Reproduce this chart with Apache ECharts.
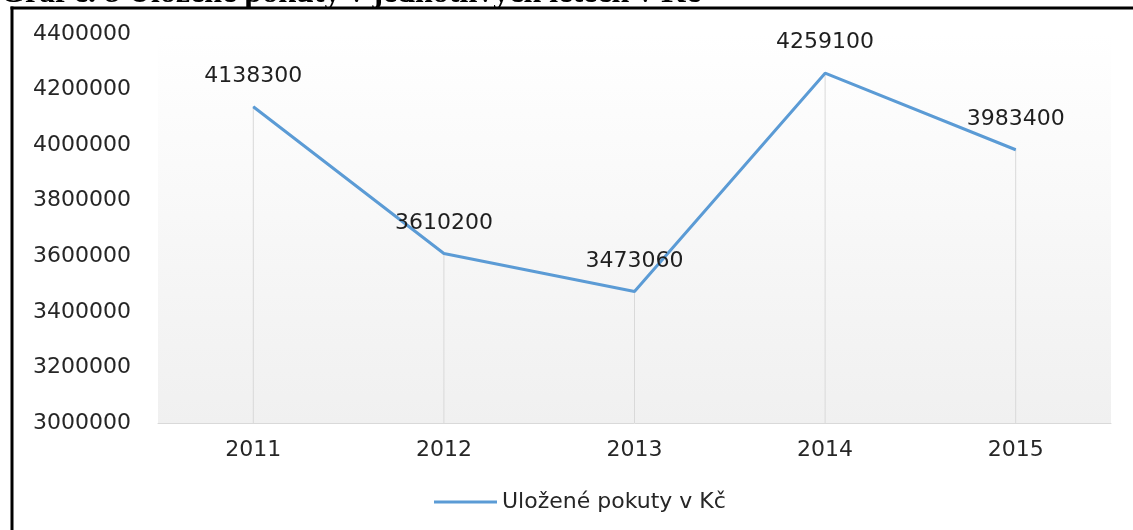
<!DOCTYPE html>
<html>
<head>
<meta charset="utf-8">
<script src="https://cdn.jsdelivr.net/npm/echarts@6/dist/echarts.min.js"></script>
<style>
  html, body { margin: 0; padding: 0; background: #fff; overflow: hidden; }
  #chart { width: 1133px; height: 530px; }
</style>
</head>
<body>
<div id="chart"></div>
<script>
const years = ['2011', '2012', '2013', '2014', '2015']
const pokuty = [4138300, 3610200, 3473060, 4259100, 3983400]
const seriesName = 'Uložené pokuty v Kč'
const titleText = 'Graf č. 8 Uložené pokuty v jednotlivých letech v Kč'

const font = 'DejaVu Sans'
const chart = echarts.init(document.getElementById('chart'))

const options = {
    backgroundColor: '#ffffff',
    animation: false,
    grid: {
        left: 158,
        right: 22,
        top: 34,
        bottom: 107,
        show: true,
        borderWidth: 0,
        backgroundColor: new echarts.graphic.LinearGradient(0, 0, 0, 1, [
            { offset: 0, color: '#ffffff' },
            { offset: 1, color: '#f0f0f0' }
        ])
    },
    legend: {
        data: [{ name: seriesName, icon: 'rect' }],
        left: 429,
        top: 486,
        itemWidth: 63,
        itemHeight: 3,
        textStyle: { fontFamily: font, fontSize: 22, color: '#262626' }
    },
    xAxis: {
        type: 'category',
        data: years,
        axisLine: { lineStyle: { color: '#d9d9d9', width: 1 } },
        axisTick: { show: false },
        axisLabel: { fontFamily: font, fontSize: 22, color: '#262626', margin: 16 }
    },
    yAxis: {
        type: 'value',
        min: 3000000,
        max: 4400000,
        interval: 200000,
        axisLine: { show: false },
        axisTick: { show: false },
        splitLine: { show: false },
        axisLabel: {
            fontFamily: font,
            fontSize: 22,
            color: '#262626',
            align: 'left',
            margin: 125,
            formatter: (v) => String(v)
        }
    },
    series: [
        {
            name: 'drop',
            type: 'bar',
            data: pokuty,
            barWidth: 1,
            silent: true,
            itemStyle: { color: '#d9d9d9' },
            z: 1
        },
        {
            name: seriesName,
            type: 'line',
            data: pokuty,
            symbol: 'circle',
            symbolSize: 1,
            itemStyle: { color: '#5b9bd5' },
            lineStyle: { color: '#5b9bd5', width: 3 },
            label: {
                show: true,
                position: 'top',
                distance: 19,
                fontFamily: font,
                fontSize: 22,
                color: '#1f1f1f'
            },
            z: 3
        }
    ],
    graphic: [
        {
            type: 'line',
            shape: { x1: 12, y1: 6.5, x2: 12, y2: 530 },
            style: { stroke: '#000', lineWidth: 3 }
        },
        {
            type: 'line',
            shape: { x1: 10.5, y1: 8, x2: 1140, y2: 8 },
            style: { stroke: '#000', lineWidth: 3 }
        },
        {
            type: 'text',
            left: 0,
            top: -22.5,
            style: {
                text: titleText,
                font: 'bold 32px "Liberation Serif"',
                fill: '#000'
            }
        }
    ]
}
chart.setOption(options)
</script>
</body>
</html>
